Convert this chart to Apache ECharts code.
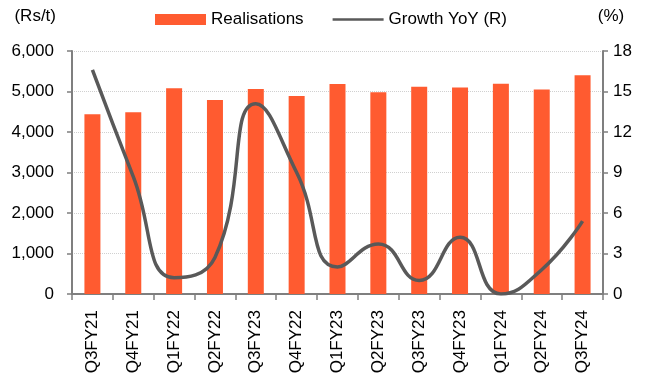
<!DOCTYPE html>
<html>
<head>
<meta charset="utf-8">
<script src="https://cdn.jsdelivr.net/npm/echarts@6/dist/echarts.min.js"></script>
<style>
  html, body { margin: 0; padding: 0; background: #fff; }
  #chart { width: 656px; height: 374px; }
</style>
</head>
<body>
<div id="chart"></div>
<script>
var quarters = ['Q3FY21', 'Q4FY21', 'Q1FY22', 'Q2FY22', 'Q3FY23', 'Q4FY22', 'Q1FY23',
    'Q2FY23', 'Q3FY23', 'Q4FY23', 'Q1FY24', 'Q2FY24', 'Q3FY24'];
var realisations = [4440, 4490, 5080, 4790, 5060, 4890, 5185, 4980, 5120, 5100, 5190, 5050, 5400];
var growthYoY = [16.6, 8.7, 1.2, 2.7, 14.1, 9.0, 2.0, 3.7, 1.0, 4.2, 0.0, 1.8, 5.4];

var font = '"Liberation Sans", Arial, sans-serif';
var chart = echarts.init(document.getElementById('chart'));

var option = {
    animation: false,
    textStyle: { fontFamily: font, color: '#000' },
    legend: {
        top: 6,
        left: 150,
        itemGap: 29,
        itemWidth: 51,
        itemHeight: 11,
        textStyle: { fontSize: 17, color: '#000', fontFamily: font },
        data: [
            { name: 'Realisations', icon: 'rect' },
            { name: 'Growth YoY (R)', icon: 'path://M0,4.2 L51,4.2 L51,6.8 L0,6.8 Z' }
        ]
    },
    grid: { left: 72, right: 53, top: 51, bottom: 80, containLabel: false, outerBoundsMode: 'none' },
    xAxis: [{
        type: 'category',
        data: quarters,
        axisLine: { lineStyle: { color: '#7f7f7f', width: 2 } },
        axisTick: { show: true, length: 6, alignWithLabel: false, lineStyle: { color: '#7f7f7f', width: 1.5 } },
        axisLabel: { rotate: 90, fontSize: 17, color: '#000', margin: 16, interval: 0, fontFamily: font }
    }],
    yAxis: [
        {
            type: 'value',
            name: '(Rs/t)',
            nameLocation: 'end',
            nameGap: 35,
            nameTextStyle: { fontSize: 17, color: '#000', align: 'right', verticalAlign: 'middle', padding: [0, 16, 0, 0], fontFamily: font },
            min: 0, max: 6000, interval: 1000,
            axisLine: { show: true, lineStyle: { color: '#7f7f7f', width: 2 } },
            axisTick: { show: true, length: 5, lineStyle: { color: '#7f7f7f', width: 1.5 } },
            axisLabel: {
                fontSize: 17, color: '#000', margin: 18, fontFamily: font,
                formatter: function (v) { return v.toLocaleString('en-US'); }
            },
            splitLine: { show: true, lineStyle: { color: '#d0d0d0', type: 'dotted' } }
        },
        {
            type: 'value',
            name: '(%)',
            nameLocation: 'end',
            nameGap: 35,
            nameTextStyle: { fontSize: 17, color: '#000', align: 'center', verticalAlign: 'middle', padding: [0, 0, 0, 16], fontFamily: font },
            min: 0, max: 18, interval: 3,
            position: 'right',
            axisLine: { show: true, lineStyle: { color: '#7f7f7f', width: 2 } },
            axisTick: { show: true, length: 5, lineStyle: { color: '#7f7f7f', width: 1.5 } },
            axisLabel: { fontSize: 17, color: '#000', margin: 10, fontFamily: font },
            splitLine: { show: false }
        }
    ],
    series: [
        {
            name: 'Realisations',
            type: 'bar',
            data: realisations,
            barWidth: 16,
            itemStyle: { color: '#ff5b30' }
        },
        {
            name: 'Growth YoY (R)',
            type: 'line',
            yAxisIndex: 1,
            data: growthYoY,
            smooth: 0.5,
            showSymbol: false,
            symbol: 'none',
            lineStyle: { color: '#595959', width: 3.5 },
            itemStyle: { color: '#595959' }
        }
    ]
};

chart.setOption(option);
</script>
</body>
</html>
